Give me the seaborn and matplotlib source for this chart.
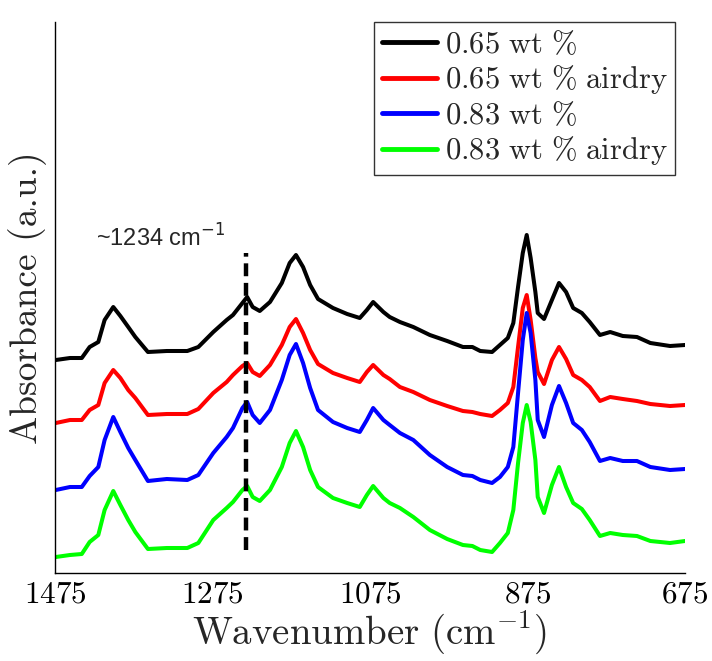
import numpy as np
import pandas as pd
import matplotlib
matplotlib.use("Agg")
import matplotlib.pyplot as plt
import seaborn as sns

# Wavenumber grid (cm^-1)
wavenumber = [1474, 1456, 1441, 1431, 1420, 1412, 1401, 1392, 1382, 1373, 1357, 1333,
              1307, 1293, 1274, 1257, 1249, 1237, 1231, 1224, 1215, 1202, 1187, 1177,
              1169, 1160, 1151, 1141, 1122, 1104, 1088, 1079, 1071, 1058, 1050, 1037,
              1020, 999, 977, 957, 945, 935, 920, 910, 900, 893, 887, 881, 876, 871,
              865, 862, 854, 844, 835, 826, 817, 806, 796, 783, 770, 754, 736, 719,
              694, 675]

# Offset absorbance traces (arbitrary units)
a065 = [2.13, 2.15, 2.15, 2.26, 2.31, 2.53, 2.66, 2.57, 2.46, 2.36, 2.21, 2.22,
        2.22, 2.26, 2.41, 2.53, 2.58, 2.70, 2.76, 2.66, 2.62, 2.71, 2.90, 3.10,
        3.18, 3.06, 2.88, 2.74, 2.65, 2.59, 2.55, 2.63, 2.71, 2.61, 2.56, 2.51,
        2.46, 2.38, 2.32, 2.26, 2.26, 2.22, 2.21, 2.28, 2.35, 2.50, 2.86, 3.20,
        3.38, 3.15, 2.81, 2.60, 2.54, 2.73, 2.90, 2.81, 2.65, 2.60, 2.51, 2.38,
        2.41, 2.37, 2.36, 2.30, 2.27, 2.28]
a065_dry = [1.50, 1.53, 1.53, 1.63, 1.68, 1.90, 2.03, 1.95, 1.83, 1.75, 1.58, 1.59,
            1.59, 1.64, 1.80, 1.91, 1.98, 2.07, 2.10, 2.01, 1.97, 2.08, 2.28, 2.46,
            2.54, 2.40, 2.23, 2.09, 2.00, 1.95, 1.91, 2.01, 2.08, 1.98, 1.94, 1.86,
            1.81, 1.73, 1.67, 1.62, 1.61, 1.59, 1.57, 1.63, 1.70, 1.86, 2.26, 2.65,
            2.78, 2.53, 2.15, 2.01, 1.89, 2.13, 2.26, 2.14, 1.98, 1.93, 1.86, 1.72,
            1.76, 1.74, 1.72, 1.69, 1.67, 1.68]
a083 = [0.83, 0.86, 0.86, 0.97, 1.06, 1.33, 1.56, 1.41, 1.25, 1.13, 0.92, 0.94,
        0.93, 0.98, 1.20, 1.36, 1.45, 1.65, 1.71, 1.58, 1.50, 1.63, 1.93, 2.18,
        2.29, 2.10, 1.85, 1.63, 1.51, 1.45, 1.41, 1.53, 1.65, 1.53, 1.48, 1.40,
        1.33, 1.18, 1.06, 0.98, 0.97, 0.93, 0.90, 0.96, 1.06, 1.26, 1.80, 2.33,
        2.60, 2.40, 1.93, 1.53, 1.36, 1.68, 1.87, 1.70, 1.50, 1.43, 1.31, 1.12,
        1.15, 1.12, 1.12, 1.06, 1.03, 1.04]
a083_dry = [0.16, 0.18, 0.19, 0.31, 0.38, 0.63, 0.82, 0.68, 0.53, 0.41, 0.24, 0.25,
            0.25, 0.30, 0.53, 0.65, 0.71, 0.83, 0.87, 0.76, 0.72, 0.83, 1.06, 1.30,
            1.42, 1.26, 1.03, 0.86, 0.75, 0.70, 0.66, 0.78, 0.87, 0.75, 0.70, 0.65,
            0.56, 0.43, 0.34, 0.28, 0.27, 0.23, 0.21, 0.30, 0.40, 0.63, 1.10, 1.50,
            1.68, 1.51, 1.13, 0.76, 0.60, 0.88, 1.06, 0.86, 0.70, 0.64, 0.53, 0.37,
            0.40, 0.38, 0.37, 0.32, 0.30, 0.32]

labels = [r"$\mathrm{0.65\ wt\ \%}$", r"$\mathrm{0.65\ wt\ \%\ airdry}$",
          r"$\mathrm{0.83\ wt\ \%}$", r"$\mathrm{0.83\ wt\ \%\ airdry}$"]
colors = ["#000000", "#ff0000", "#0000ff", "#00ff00"]
xticks = [1475, 1275, 1075, 875, 675]
marker_wn = 1233

sns.set_style("white")
plt.rcParams["mathtext.fontset"] = "cm"
plt.rcParams["font.family"] = ["DejaVu Sans"]
plt.rcParams["axes.formatter.use_mathtext"] = True

df = pd.concat([
    pd.DataFrame({"wn": wavenumber, "abs": vals, "sample": lab})
    for vals, lab in zip([a065, a065_dry, a083, a083_dry], labels)
])

fig = plt.figure(figsize=(7.12, 6.61), dpi=100)
ax = fig.add_axes([55 / 712, 1 - 573 / 661, 630 / 712, 551 / 661])

sns.lineplot(data=df, x="wn", y="abs", hue="sample", hue_order=labels,
             palette=colors, estimator=None, linewidth=2.9, ax=ax)
for ln in ax.get_lines():
    ln.set_solid_joinstyle("round")
    ln.set_solid_capstyle("round")

ax.plot([marker_wn, marker_wn], [0.23, 3.20], color="black", lw=3.2,
        dashes=(2.9, 1.5))
ax.text(1423, 3.26, "~1234 cm$^{-1}$", family=["Liberation Sans"],
        math_fontfamily="dejavusans", fontsize=17, ha="left", va="baseline")

ax.set_xlim(1475, 675)
ax.set_ylim(0, 5.51)
ax.set_xticks(xticks)
ax.set_xticklabels([f"${t}$" for t in xticks], fontsize=22.5)
ax.set_yticks([1.76])
ax.set_yticklabels([""])
ax.tick_params(direction="in", length=6, width=1, colors="black")
ax.tick_params(axis="x", pad=5)
for s in ["top", "right"]:
    ax.spines[s].set_visible(False)
for s in ["left", "bottom"]:
    ax.spines[s].set_color("black")
    ax.spines[s].set_linewidth(1.0)

ax.set_xlabel(r"$\mathrm{Wavenumber\ (cm^{-1})}$", fontsize=28, labelpad=0)
ax.set_ylabel("Absorbance (a.u.)", family="cmr10", fontsize=27, labelpad=2)

leg = ax.legend(loc="upper right", bbox_to_anchor=(620 / 630, 1.0),
                borderaxespad=0, fontsize=22, frameon=True, fancybox=False,
                handlelength=1.8, handletextpad=0.25, labelspacing=0.15,
                borderpad=0.25)
leg.get_frame().set_edgecolor("black")
leg.get_frame().set_linewidth(1.0)
for h in leg.get_lines():
    h.set_linewidth(3.5)

fig.savefig("out.png", dpi=100, facecolor="white")
